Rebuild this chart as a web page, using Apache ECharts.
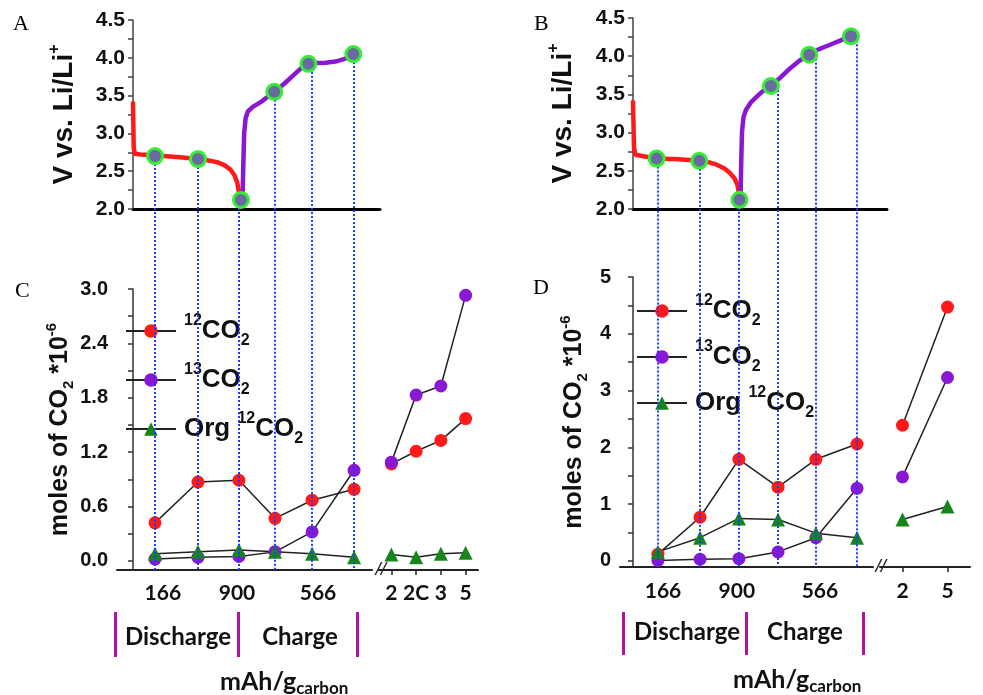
<!DOCTYPE html>
<html><head><meta charset="utf-8">
<script src="https://cdn.jsdelivr.net/npm/echarts@6/dist/echarts.min.js"></script>
<style>html,body{margin:0;padding:0;background:#fff}#c{width:983px;height:695px}</style>
</head><body><div id="c"></div>
<script>
// ================= DATA =================
// Voltage profiles (x = relative capacity position 0-100 along the top axis, y = V vs Li/Li+)
const curveA_discharge = [[0.0,3.40],[0.3,2.80],[0.8,2.73],[3,2.72],[8.9,2.71],[15,2.695],[20,2.68],[26.3,2.66],[30,2.645],[34,2.62],[37,2.58],[39.5,2.52],[41,2.45],[42.2,2.35],[42.9,2.22],[43.4,2.12]];
const curveA_charge = [[44.3,2.10],[44.6,2.5],[45.0,3.0],[45.6,3.2],[46.5,3.29],[48.5,3.35],[52,3.42],[57.2,3.55],[61,3.65],[65,3.77],[68,3.86],[71,3.92],[74,3.93],[78,3.935],[82,3.95],[86,3.99],[89.2,4.05]];
const curveB_discharge = [[0.0,3.40],[0.4,2.80],[1.0,2.71],[4.1,2.69],[9.3,2.66],[18,2.65],[26.1,2.63],[30,2.61],[33,2.58],[36,2.53],[38.2,2.47],[40,2.40],[41.1,2.32],[41.6,2.22],[41.9,2.13]];
const curveB_charge = [[42.3,2.10],[42.6,2.6],[42.9,3.0],[43.5,3.2],[44.5,3.30],[46.5,3.40],[48.7,3.47],[51,3.54],[54.3,3.61],[58,3.72],[61.8,3.84],[65.5,3.94],[69.4,4.02],[73,4.09],[77.6,4.15],[82,4.21],[85.8,4.26]];

// Sampling points marked on the voltage profiles
const samplesA_x = [8.9, 26.3, 43.7, 57.2, 71.0, 89.2];
const samplesA_v = [2.70, 2.66, 2.12, 3.55, 3.92, 4.05];
const samplesB_x = [9.3, 26.1, 41.9, 54.3, 69.4, 85.8];
const samplesB_v = [2.66, 2.63, 2.12, 3.61, 4.02, 4.26];

// Positions of the sampling (dotted guide lines / CO2 measurement points)
const guideA_x = [8.9, 26.3, 42.9, 57.5, 72.5, 89.5];
const guideB_x = [9.8, 26.4, 41.7, 57.1, 72.0, 88.2];

// Capacity tick labels
const capLabels = ['166', '900', '566'];
const capLabelPosC = [12.1, 42.1, 74.9];
const capLabelPosD = [11.8, 40.9, 73.6];

// Discharge / Charge annotation
const phaseLabels = ['Discharge', 'Charge'];
const phaseTextPosA = [18.2, 67.6];
const phaseBoundsA = [-7.3, 42.7, 90.7];
const phaseTextPosB = [21.3, 67.7];
const phaseBoundsB = [-3.9, 44.5, 90.6];

// Panel C : moles of CO2 *10^-6
const rateCatsC = ['2', '2C', '3', '5'];
const co2_12_C = [0.42, 0.87, 0.89, 0.47, 0.67, 0.79];
const co2_12_C_rate = [1.07, 1.21, 1.33, 1.57];
const co2_13_C = [0.02, 0.04, 0.05, 0.10, 0.32, 1.00];
const co2_13_C_rate = [1.09, 1.83, 1.93, 2.93];
const org12_C = [0.08, 0.10, 0.12, 0.10, 0.08, 0.04];
const org12_C_rate = [0.07, 0.04, 0.08, 0.09];

// Panel D
const rateCatsD = ['2', '5'];
const co2_12_D = [0.12, 0.77, 1.79, 1.30, 1.79, 2.06];
const co2_12_D_rate = [2.39, 4.47];
const co2_13_D = [0.01, 0.03, 0.04, 0.16, 0.41, 1.28];
const co2_13_D_rate = [1.48, 3.23];
const org12_D = [0.16, 0.41, 0.75, 0.73, 0.49, 0.41];
const org12_D_rate = [0.73, 0.96];

// Y-axis ticks
const vLabelTicks = [2.0, 2.5, 3.0, 3.5, 4.0, 4.5];
const vMinorTicks = [2.0, 2.25, 2.5, 2.75, 3.0, 3.25, 3.5, 3.75, 4.0, 4.25, 4.5];
const cLabelTicks = [0, 0.6, 1.2, 1.8, 2.4, 3.0];
const cAllTicks = [0, 0.3, 0.6, 0.9, 1.2, 1.5, 1.8, 2.1, 2.4, 2.7, 3.0];
const dLabelTicks = [0, 1, 2, 3, 4, 5];
const dAllTicks = [0, 0.5, 1, 1.5, 2, 2.5, 3, 3.5, 4, 4.5, 5];

const seriesNames = ['12CO2', '13CO2', 'Org12CO2'];

// ================= LAYOUT =================
const G = {
  A:  {left:133, top:20,  width:247, height:189},
  B:  {left:633, top:18,  width:254, height:191},
  C1: {left:117, top:289, width:255, height:281},
  C2: {left:379, top:289, width:99,  height:281},
  D1: {left:620, top:277, width:253, height:290},
  D2: {left:880, top:277, width:90,  height:290},
};
const uA = 100 / G.A.width, uB = 100 / G.B.width;        // units per px
const CL = {left:103, top:G.A.top, width:307, height:(G.C1.top + G.C1.height) - G.A.top};
const CR = {left:603, top:G.B.top, width:314, height:(G.D1.top + G.D1.height) - G.B.top};
const vPerPxA = 2.5 / G.A.height, vPerPxB = 2.5 / G.B.height;
const CLyMin = 4.5 - CL.height * vPerPxA;
const CRyMin = 4.5 - CR.height * vPerPxB;

const COL = {red:'#ff1a1a', purple:'#8a18d2', green:'#17861a', blue:'#1a3cff', magenta:'#b3129f', dark:'#222'};
const SANS = 'Liberation Sans', CAL = 'Lato', SERIF = 'Liberation Serif';

const zip = (xs, ys) => xs.map((x, i) => [x, ys[i]]);
const nearestLabel = (pos, labels) => v => {
  let best = 0; pos.forEach((p, i) => { if (Math.abs(p - v) < Math.abs(pos[best] - v)) best = i; });
  return labels[best];
};

const richSS = {
  b:{fontFamily:SANS, fontWeight:'bold', fontSize:28, color:'#111', lineHeight:34},
  sup:{fontFamily:SANS, fontWeight:'bold', fontSize:16, color:'#111', verticalAlign:'top', lineHeight:16},
  sub:{fontFamily:SANS, fontWeight:'bold', fontSize:16, color:'#111', verticalAlign:'bottom', lineHeight:16},
};
const richC = {
  b:{fontFamily:SANS, fontWeight:'bold', fontSize:25, color:'#111', lineHeight:32},
  sup:{fontFamily:SANS, fontWeight:'bold', fontSize:15, color:'#111', verticalAlign:'top', lineHeight:15},
  sub:{fontFamily:SANS, fontWeight:'bold', fontSize:15, color:'#111', verticalAlign:'bottom', lineHeight:15},
};
const legendRich = {
  b:{fontFamily:SANS, fontWeight:'bold', fontSize:26, color:'#111', lineHeight:36},
  sup:{fontFamily:SANS, fontWeight:'bold', fontSize:16, color:'#111', verticalAlign:'top', lineHeight:16},
  sub:{fontFamily:SANS, fontWeight:'bold', fontSize:16, color:'#111', verticalAlign:'bottom', lineHeight:16},
};
const legendText = {'12CO2':'{sup|12}{b|CO}{sub|2}', '13CO2':'{sup|13}{b|CO}{sub|2}', 'Org12CO2':'{b|Org }{sup|12}{b|CO}{sub|2}'};

const tickLabelStyle = {fontFamily:SANS, fontWeight:'bold', fontSize:21, color:'#111'};
const capLabelStyle = {fontFamily:CAL, fontWeight:'bold', fontSize:21, color:'#111'};

function voltYAxis(grid) {
  return {type:'value', gridIndex:grid, min:2.0, max:4.5,
    name:'{b|V vs. Li/Li}{sup|+}', nameLocation:'middle', nameGap:52, nameRotate:90,
    nameTextStyle:{rich:richSS},
    axisLine:{show:true, lineStyle:{color:'#444', width:1.5}},
    axisTick:{show:true, length:5, customValues:vMinorTicks, lineStyle:{color:'#444', width:1.5}},
    axisLabel:{show:true, margin:8, customValues:vLabelTicks, formatter:v => v.toFixed(1), ...tickLabelStyle},
    splitLine:{show:false}};
}
function voltXAxis(grid) {
  return {type:'value', gridIndex:grid, min:0, max:100,
    axisLine:{show:true, onZero:false, lineStyle:{color:'#000', width:3}},
    axisTick:{show:false}, axisLabel:{show:false}, splitLine:{show:false}};
}
function co2YAxis(grid, min, max, labels, ticks, fmt, gap, show) {
  return {type:'value', gridIndex:grid, min, max, show,
    name: show ? '{b|moles of CO}{sub|2}{b| *10}{sup|-6}' : '', nameLocation:'middle', nameGap:gap, nameRotate:90,
    nameTextStyle:{rich:richC},
    axisLine:{show:true, lineStyle:{color:'#333', width:1.5}},
    axisTick:{show:true, length:5, customValues:ticks, lineStyle:{color:'#333', width:1.5}},
    axisLabel:{show:true, margin:9, customValues:labels, formatter:fmt, ...tickLabelStyle, fontSize:20},
    splitLine:{show:false}};
}

const breakName = gap => ({name:'//', nameLocation:'start', nameGap:gap,
  nameTextStyle:{fontFamily:SANS, fontSize:19, fontStyle:'italic', color:'#222', verticalAlign:'middle'}});

const xAxes = [
  voltXAxis(0),
  voltXAxis(1),
  // C1
  {type:'value', gridIndex:2, min:(G.C1.left - G.A.left) * uA, max:(G.C1.left + G.C1.width - G.A.left) * uA,
   axisLine:{show:true, onZero:false, lineStyle:{color:COL.dark, width:2}}, axisTick:{show:false},
   axisLabel:{show:true, margin:13, customValues:capLabelPosC, formatter:nearestLabel(capLabelPosC, capLabels), ...capLabelStyle},
   splitLine:{show:false}},
  // C2
  {type:'category', gridIndex:3, data:rateCatsC, boundaryGap:true, ...breakName(-7),
   axisLine:{show:true, onZero:false, lineStyle:{color:COL.dark, width:2}},
   axisTick:{show:true, alignWithLabel:true, length:5, lineStyle:{color:COL.dark, width:1.5}},
   axisLabel:{show:true, interval:0, hideOverlap:false, margin:13, ...capLabelStyle}},
  // D1
  {type:'value', gridIndex:4, min:(G.D1.left - G.B.left) * uB, max:(G.D1.left + G.D1.width - G.B.left) * uB,
   axisLine:{show:true, onZero:false, lineStyle:{color:COL.dark, width:2}}, axisTick:{show:false},
   axisLabel:{show:true, margin:14, customValues:capLabelPosD, formatter:nearestLabel(capLabelPosD, capLabels), ...capLabelStyle},
   splitLine:{show:false}},
  // D2
  {type:'category', gridIndex:5, data:rateCatsD, boundaryGap:true, ...breakName(-6),
   axisLine:{show:true, onZero:false, lineStyle:{color:COL.dark, width:2}},
   axisTick:{show:true, alignWithLabel:true, length:5, lineStyle:{color:COL.dark, width:1.5}},
   axisLabel:{show:true, interval:0, margin:14, ...capLabelStyle}},
  // connector left (guides)
  {type:'value', gridIndex:6, min:(CL.left - G.A.left) * uA, max:(CL.left + CL.width - G.A.left) * uA, show:false},
  // connector left (phase annotation)
  {type:'value', gridIndex:6, min:(CL.left - G.A.left) * uA, max:(CL.left + CL.width - G.A.left) * uA,
   position:'bottom', offset:42,
   axisLine:{show:false},
   axisTick:{show:true, length:45, customValues:phaseBoundsA, lineStyle:{color:COL.magenta, width:3}},
   axisLabel:{show:true, margin:13, customValues:phaseTextPosA, formatter:nearestLabel(phaseTextPosA, phaseLabels), ...capLabelStyle, fontSize:24},
   splitLine:{show:false}},
  // connector right (guides)
  {type:'value', gridIndex:7, min:(CR.left - G.B.left) * uB, max:(CR.left + CR.width - G.B.left) * uB, show:false},
  // connector right (phase annotation)
  {type:'value', gridIndex:7, min:(CR.left - G.B.left) * uB, max:(CR.left + CR.width - G.B.left) * uB,
   position:'bottom', offset:45,
   axisLine:{show:false},
   axisTick:{show:true, length:43, customValues:phaseBoundsB, lineStyle:{color:COL.magenta, width:3}},
   axisLabel:{show:true, margin:8, customValues:phaseTextPosB, formatter:nearestLabel(phaseTextPosB, phaseLabels), ...capLabelStyle, fontSize:24},
   splitLine:{show:false}},
];

const fmtC = v => v.toFixed(1);
const fmtD = v => String(Math.round(v));
const yAxes = [
  voltYAxis(0),
  voltYAxis(1),
  co2YAxis(2, -0.1, 3.0, cLabelTicks, cAllTicks, fmtC, 39, true),
  {type:'value', gridIndex:3, min:-0.1, max:3.0, show:false},
  co2YAxis(4, -0.106, 5.0, dLabelTicks, dAllTicks, fmtD, 30, true),
  {type:'value', gridIndex:5, min:-0.106, max:5.0, show:false},
  {type:'value', gridIndex:6, min:CLyMin, max:4.5, show:false},
  {type:'value', gridIndex:7, min:CRyMin, max:4.5, show:false},
];
yAxes[1].nameGap = 53;

const series = [];
// voltage curves
[[0, curveA_discharge, COL.red], [0, curveA_charge, COL.purple], [1, curveB_discharge, COL.red], [1, curveB_charge, COL.purple]]
  .forEach(([g, d, c]) => series.push({type:'line', xAxisIndex:g, yAxisIndex:g, data:d, symbol:'none', silent:true,
    lineStyle:{color:c, width:4.5, cap:'round', join:'round'}, z:2}));

// guide lines (dotted, from sampling point down to CO2 axis)
series.push({type:'lines', coordinateSystem:'cartesian2d', xAxisIndex:6, yAxisIndex:6, silent:true, z:4,
  lineStyle:{color:COL.blue, width:2, type:[2, 2], opacity:1},
  data: guideA_x.map((x, i) => ({coords:[[x, samplesA_v[i]], [x, CLyMin]]}))});
series.push({type:'lines', coordinateSystem:'cartesian2d', xAxisIndex:8, yAxisIndex:7, silent:true, z:4,
  lineStyle:{color:COL.blue, width:2, type:[2, 2], opacity:1},
  data: guideB_x.map((x, i) => ({coords:[[x, samplesB_v[i]], [x, CRyMin]]}))});

// sampling points on voltage curves
[[0, samplesA_x, samplesA_v], [1, samplesB_x, samplesB_v]].forEach(([g, xs, ys]) => series.push({
  type:'scatter', xAxisIndex:g, yAxisIndex:g, data:zip(xs, ys), symbol:'circle', symbolSize:15, silent:true, z:6,
  itemStyle:{color:'#6a6aa0', borderColor:'#33ee33', borderWidth:3, opacity:1}}));

// CO2 series
function co2Series(name, color, symbol, size, gMain, xs, vals, gRate, rateVals) {
  const common = {name, type:'line', symbol, symbolSize:size, showSymbol:true, silent:true,
    lineStyle:{color:'#222', width:1.5}, itemStyle:{color, opacity:1}, z:3};
  series.push({...common, xAxisIndex:gMain, yAxisIndex:gMain, data:zip(xs, vals)});
  series.push({...common, xAxisIndex:gRate, yAxisIndex:gRate, data:rateVals});
}
co2Series('12CO2', COL.red, 'circle', 13, 2, guideA_x, co2_12_C, 3, co2_12_C_rate);
co2Series('13CO2', COL.purple, 'circle', 13, 2, guideA_x, co2_13_C, 3, co2_13_C_rate);
co2Series('Org12CO2', COL.green, 'triangle', 14, 2, guideA_x, org12_C, 3, org12_C_rate);
co2Series('12CO2', COL.red, 'circle', 13, 4, guideB_x, co2_12_D, 5, co2_12_D_rate);
co2Series('13CO2', COL.purple, 'circle', 13, 4, guideB_x, co2_13_D, 5, co2_13_D_rate);
co2Series('Org12CO2', COL.green, 'triangle', 14, 4, guideB_x, org12_D, 5, org12_D_rate);

const legendBase = {orient:'vertical', data:seriesNames, itemWidth:50, itemHeight:17, selectedMode:false,
  formatter:n => legendText[n], textStyle:{rich:legendRich, padding:[0,0,0,3]}, inactiveColor:'#111'};

const panelTitle = t => ({text:t, textStyle:{fontFamily:SERIF, fontSize:22, fontWeight:'normal', color:'#000'}});
const unitRich = {b:{fontFamily:CAL, fontWeight:'bold', fontSize:25, color:'#111', lineHeight:30},
                  s:{fontFamily:CAL, fontWeight:'bold', fontSize:17, color:'#111', verticalAlign:'bottom', lineHeight:22}};

const option = {
  backgroundColor:'#fff',
  animation:false,
  title:[
    {...panelTitle('A'), left:8, top:8},
    {...panelTitle('B'), left:529, top:8},
    {...panelTitle('C'), left:10, top:275},
    {...panelTitle('D'), left:528, top:272},
    {text:'{b|mAh/g}{s|carbon}', left:215, top:662, textStyle:{rich:unitRich}},
    {text:'{b|mAh/g}{s|carbon}', left:728, top:660, textStyle:{rich:unitRich}},
  ],
  legend:[
    {...legendBase, left:120, top:308, itemGap:13},
    {...legendBase, left:631, top:288, itemGap:10},
  ],
  grid:[G.A, G.B, G.C1, G.C2, G.D1, G.D2, CL, CR].map(g => ({...g, containLabel:false, show:false})),
  xAxis:xAxes,
  yAxis:yAxes,
  series,
};

const chart = echarts.init(document.getElementById('c'), null, {renderer:'canvas'});
chart.setOption(option);
</script>
</body></html>
